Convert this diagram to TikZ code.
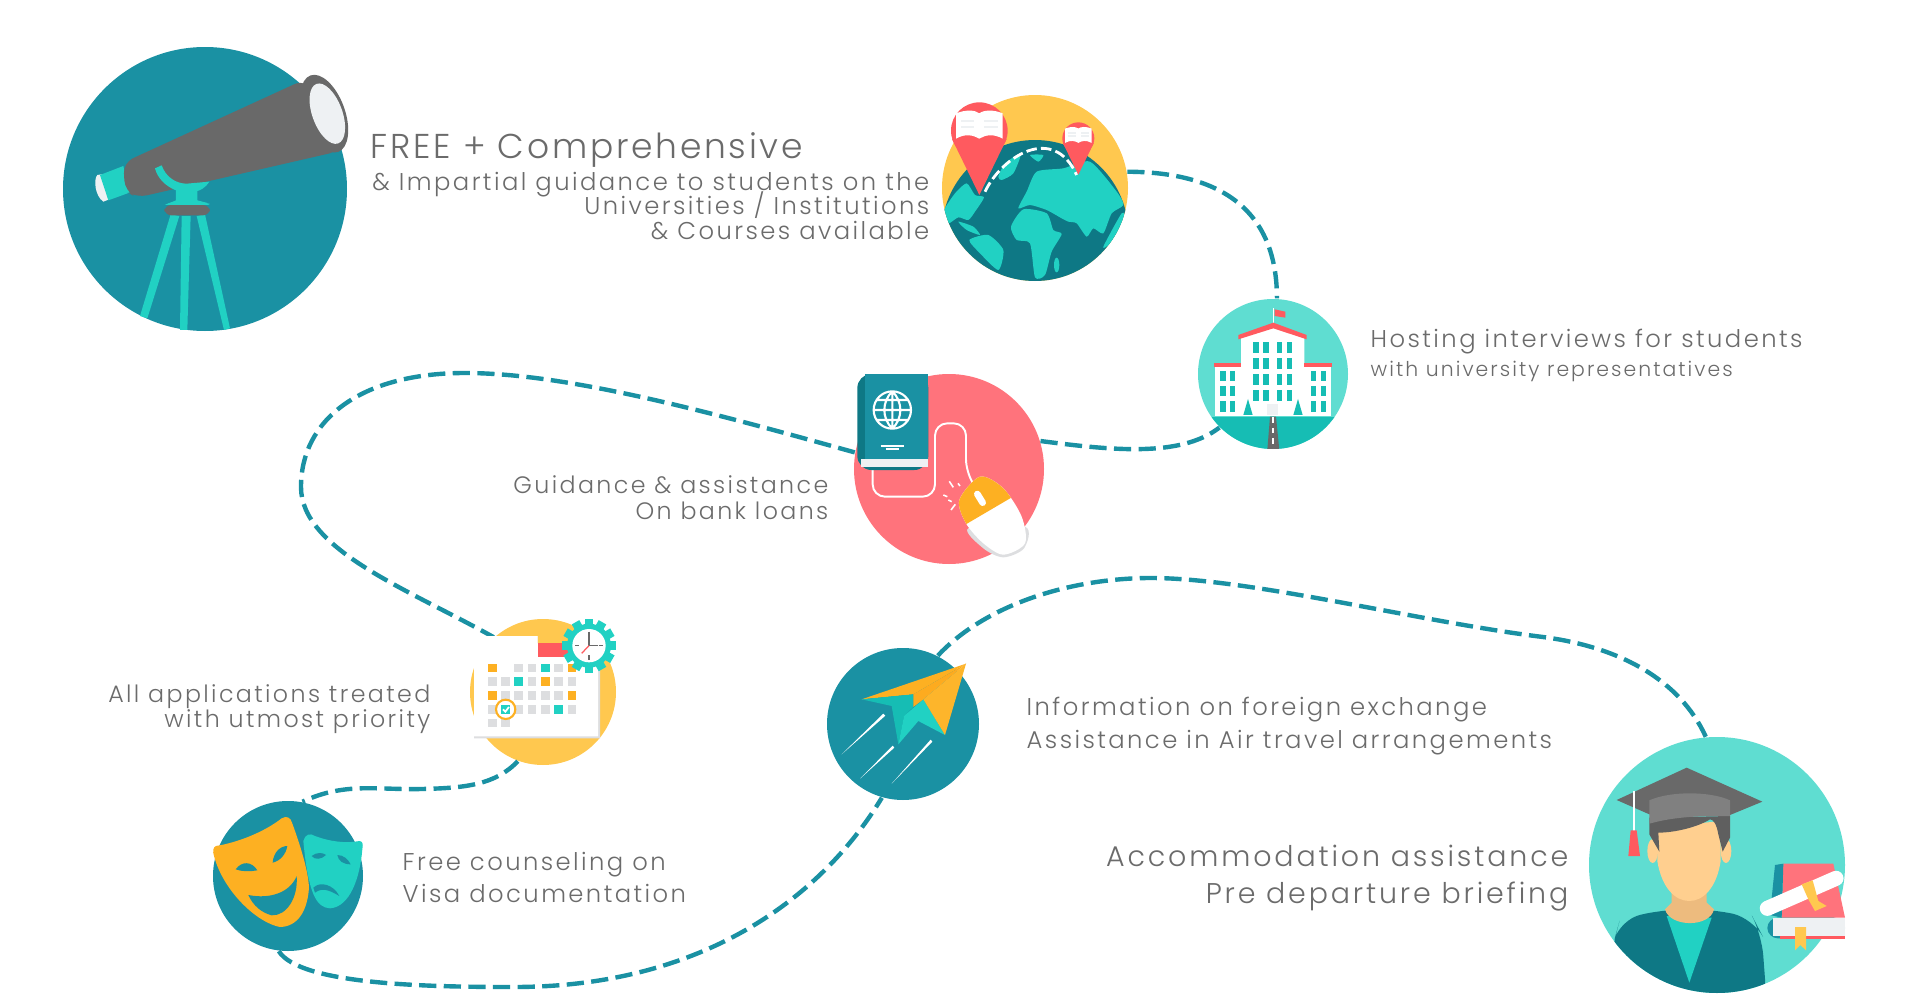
\documentclass[tikz,border=0pt]{standalone}
\usepackage{fontspec}
\usepackage{xcolor}
\newfontfamily\labelfont[LetterSpace=10]{Poppins Light}
\newfontfamily\headfont[LetterSpace=8]{Poppins Light}
\lineskiplimit=-20pt
\normallineskiplimit=-20pt
\definecolor{sea}{HTML}{1A91A3}
\definecolor{deepsea}{HTML}{0E7885}
\definecolor{aqua}{HTML}{21D1C3}
\definecolor{mint}{HTML}{5FDDD1}
\definecolor{lawn}{HTML}{16BDB4}
\definecolor{sun}{HTML}{FFC84F}
\definecolor{amber}{HTML}{FDB022}
\definecolor{coral}{HTML}{FF737C}
\definecolor{pinred}{HTML}{FF5A5F}
\definecolor{slate}{HTML}{696969}
\definecolor{paper}{HTML}{EEF1F3}
\definecolor{cell}{HTML}{DDDEE0}
\definecolor{inkgray}{HTML}{6B6B6B}
\definecolor{skin}{HTML}{FFCF8F}
\definecolor{neck}{HTML}{EDBB7E}
\tikzset{
    disc/.style 2 args={circle, inner sep=0pt, minimum size=#1*0.01cm, fill=#2},
    route/.style={draw=sea, line width=1.25pt, dash pattern=on 4.9pt off 2.1pt},
    blurb/.style 2 args={text=inkgray, inner sep=0pt, font=\labelfont\fontsize{#1}{#2}\selectfont},
    inset/.style 2 args={shift={(#1,#2)}, scale=1/3},
}
\begin{document}
\begin{tikzpicture}[x=0.01cm, y=-0.01cm]
    \fill[white, use as bounding box] (0,0) rectangle (1920,1000);

    \node[disc={284}{sea}] (telescope) at (205,189) {};
    \node[disc={186}{sun}] (globe) at (1035,188) {};
    \node[disc={150}{mint}] (campus) at (1273,374) {};
    \node[disc={190}{coral}] (passport) at (949,469) {};
    \node[disc={146}{sun}] (calendar) at (543,692) {};
    \node[disc={150}{sea}] (masks) at (288,876) {};
    \node[disc={152}{sea}] (plane) at (903,724) {};
    \node[disc={256}{mint}] (graduate) at (1717,865) {};

    \draw[route] (globe.10) .. controls (1200,172) and (1277,195) .. (campus.87);
    \draw[route] (passport.17) .. controls (1110,450) and (1180,458) .. (campus.225);
    \draw[route] (passport.170) .. controls (720,415) and (570,373) .. (465,373)
        .. controls (360,373) and (301,420) .. (301,487)
        .. controls (301,550) and (410,590) .. (calendar.132);
    \draw[route] (calendar.250) .. controls (495,785) and (465,788) .. (422,789)
        .. controls (375,790) and (345,782) .. (masks.79);
    \draw[route] (masks.263) .. controls (300,985) and (430,987) .. (514,987)
        .. controls (700,987) and (820,900) .. (plane.254);
    \draw[route] (plane.63) .. controls (985,605) and (1070,578) .. (1151,578)
        .. controls (1250,578) and (1420,622) .. (1543,637)
        .. controls (1620,647) and (1680,680) .. (graduate.95);

    \begin{scope}[inset={40}{31}]
        \fill[aqua] (392,550) -- (418,555) -- (322,862) -- (300,855) -- cycle;
        \fill[aqua] (425,555) -- (452,555) -- (442,897) -- (420,897) -- cycle;
        \fill[aqua] (470,555) -- (495,550) -- (570,892) -- (552,897) -- cycle;
        \fill[paper] (172,432) .. controls (160,445) and (165,495) .. (190,512) -- (208,505) -- (185,430) -- cycle;
        \fill[aqua] (180,432) -- (250,405) -- (268,485) -- (205,508) -- cycle;
        \fill[slate, rounded corners=3pt] (250,395) -- (795,145) -- (900,360) -- (290,500) -- (255,480) -- cycle;
        \fill[slate, rotate around={20:(853,248)}] (853,248) ellipse (62 and 122);
        \fill[paper, rotate around={20:(862,248)}] (862,248) ellipse (45 and 95);
        \fill[aqua] (345,412) -- (365,403) .. controls (378,440) and (410,458) .. (440,458)
            -- (508,452) .. controls (495,472) and (480,478) .. (472,480) -- (472,508) -- (510,518)
            -- (375,522) -- (408,508) -- (408,478) .. controls (375,465) and (352,440) .. (345,412) -- cycle;
        \fill[slate, rounded corners=2pt] (373,522) rectangle (510,553);
        \fill[aqua] (375,522) .. controls (400,505) and (485,505) .. (510,522) -- cycle;
    \end{scope}

    \begin{scope}[inset={930}{80}]
        \begin{scope}
            \clip (315,324) circle (279);
            \fill[deepsea] (315,460) circle (280);
            \fill[aqua] plot[smooth cycle, tension=0.4] coordinates {(40,395) (75,340) (110,310) (135,345) (162,352) (135,395) (115,420) (85,412) (55,430)};
            \fill[aqua] plot[smooth cycle, tension=0.4] coordinates {(85,425) (130,440) (150,465) (110,450)};
            \fill[aqua] plot[smooth cycle, tension=0.4] coordinates {(118,480) (175,465) (220,510) (205,570) (150,520)};
            \fill[aqua] plot[smooth cycle, tension=0.4] coordinates {(205,290) (225,250) (272,222) (250,280) (215,300)};
            \fill[aqua] plot[smooth cycle, tension=0.4] coordinates {(265,385) (290,335) (320,275) (400,265) (480,245) (560,335) (580,375) (545,400) (520,460) (490,445) (470,470) (440,430) (415,425) (395,415) (350,390) (300,375)};
            \fill[aqua] plot[smooth cycle, tension=0.4] coordinates {(243,440) (280,388) (350,400) (370,450) (395,462) (365,515) (345,585) (315,592) (300,490) (260,480)};
            \fill[aqua] plot[smooth cycle, tension=0.4] coordinates {(520,500) (575,400) (585,420) (540,490)};
            \fill[aqua] plot[smooth cycle, tension=0.4] coordinates {(300,225) (340,225) (325,245)};
            \fill[aqua] (380,555) ellipse (8 and 22);
        \end{scope}
        \draw[white, line width=0.8pt, dash pattern=on 3pt off 1.2pt] (165,335) .. controls (215,230) and (370,130) .. (440,285);
        \foreach \px/\py/\ps in {148/152/1, 445/175/0.565} {
            \begin{scope}[shift={(\px,\py)}, scale=\ps]
                \fill[pinred] (0,0) circle (85);
                \fill[pinred] (-82,25) -- (82,25) -- (0,193) -- cycle;
                \fill[white] (-70,-52) .. controls (-38,-64) and (-13,-62) .. (0,-52)
                    .. controls (12,-62) and (42,-64) .. (70,-52) -- (70,24)
                    .. controls (42,8) and (17,13) .. (0,24) .. controls (-18,13) and (-43,8) .. (-70,24) -- cycle;
                \draw[paper, line width=0.5pt] (-55,-30) -- (-15,-30) (-55,-12) -- (-15,-12) (15,-30) -- (55,-30) (15,-12) -- (55,-12);
            \end{scope}
        }
    \end{scope}

    \begin{scope}[inset={930}{80}]
        \begin{scope}
            \clip (1029,882) circle (225);
            \fill[lawn] (800,1010) rectangle (1260,1110);
            \fill[slate] (1020,1010) -- (1038,1010) -- (1048,1110) -- (1012,1110) -- cycle;
            \draw[white, line width=0.3pt, dash pattern=on 1.5pt off 1.5pt] (1029,1012) -- (1029,1108);
        \end{scope}
        \fill[white] (855,862) rectangle (1203,1008);
        \fill[white] (933,770) -- (1030,742) -- (1123,770) -- (1123,1008) -- (933,1008) -- cycle;
        \fill[white] (1028,685) rectangle (1032,730);
        \fill[pinred] (1034,688) -- (1066,695) -- (1066,713) -- (1034,708) -- cycle;
        \fill[pinred] (925,765) -- (1030,728) -- (1130,765) -- (1130,778) -- (1030,745) -- (925,778) -- cycle;
        \fill[pinred] (852,850) rectangle (933,862);
        \fill[pinred] (1123,850) rectangle (1205,862);
        \foreach \wx in {970,1000,1040,1071} {
            \foreach \wy in {786,834,882,931} {
                \fill[lawn] (\wx,\wy) rectangle ++(16,32);
            }
        }
        \foreach \wx in {871,900,1143,1172} {
            \foreach \wy in {873,918,964} {
                \fill[lawn] (\wx,\wy) rectangle ++(16,31);
            }
        }
        \fill[paper] (1012,972) rectangle (1045,1005);
        \fill[lawn] (954,957) -- (968,1005) -- (940,1005) -- cycle;
        \fill[lawn] (1104,957) -- (1118,1005) -- (1090,1005) -- cycle;
    \end{scope}

    \begin{scope}[inset={840}{360}]
        \draw[white, line width=0.55pt, rounded corners=3.5pt] (98,322) -- (98,410) -- (285,410) -- (285,190) -- (378,190) -- (378,335) -- (398,368);
        \fill[deepsea, rounded corners=4pt] (52,42) rectangle (265,330);
        \fill[sea] (75,42) rectangle (265,298);
        \fill[paper] (62,298) rectangle (265,322);
        \draw[white, line width=0.6pt] (157,150) circle (56) (157,94) -- (157,206) (101,150) -- (213,150)
            (157,94) .. controls (125,125) and (125,175) .. (157,206) (157,94) .. controls (189,125) and (189,175) .. (157,206)
            (110,120) -- (204,120) (110,180) -- (204,180);
        \draw[white, line width=0.5pt] (122,257) -- (192,257) (137,267) -- (178,267);
        \fill[cell] plot[smooth cycle] coordinates {(385,505) (430,565) (490,592) (552,565) (555,500)};
        \begin{scope}
            \clip plot[smooth cycle] coordinates {(358,420) (420,350) (490,385) (545,470) (555,550) (490,584) (430,550) (378,490)};
            \fill[white] (340,330) rectangle (570,600);
            \fill[amber] (340,330) -- (570,330) -- (570,380) -- (340,515) -- cycle;
        \end{scope}
        \draw[white, line width=1.9pt, line cap=round] (412,402) -- (428,428);
        \draw[white, line width=0.45pt] (340,382) -- (328,364) (322,410) -- (310,405) (333,450) -- (346,433) (360,378) -- (354,370) (335,425) -- (325,420);
    \end{scope}

    \begin{scope}[inset={460}{600}]
        \fill[cell] (42,108) -- (233,108) -- (233,130) -- (420,130) -- (420,415) -- (42,415) -- cycle;
        \fill[white] (42,108) -- (233,108) -- (233,130) -- (414,130) -- (414,409) -- (42,409) -- cycle;
        \fill[pinred] (233,130) rectangle (335,170);
        \foreach \cx/\cy/\tone in {
            97/204/amber, 176/204/cell, 216/204/cell, 256/204/aqua, 296/204/cell, 336/204/amber,
            97/245/cell, 137/245/cell, 176/245/aqua, 216/245/cell, 256/245/amber, 296/245/cell, 336/245/cell,
            97/287/amber, 137/287/cell, 176/287/cell, 216/287/cell, 256/287/cell, 296/287/cell, 336/287/amber,
            97/328/cell, 137/328/aqua, 176/328/cell, 216/328/cell, 256/328/cell, 296/328/aqua, 336/328/cell,
            97/369/cell, 137/369/cell} {
            \fill[\tone] (\cx-13,\cy-13) rectangle (\cx+13,\cy+13);
        }
        \draw[amber, line width=0.6pt] (137,328) circle (29);
        \draw[white, line width=0.5pt] (129,328) -- (136,335) -- (147,321);
        \foreach \ang in {0,30,...,330} {
            \fill[aqua, rotate around={\ang:(387,137)}] (374,56) rectangle (400,80);
        }
        \fill[aqua] (387,137) circle (66);
        \fill[white] (387,137) circle (50);
        \draw[slate, line width=0.4pt] (387,95) -- (387,108) (387,166) -- (387,179) (345,137) -- (358,137) (416,137) -- (429,137) (387,137) -- (387,103) (387,137) -- (415,137);
        \draw[pinred, line width=0.35pt] (387,137) -- (365,160);
    \end{scope}

    \begin{scope}[inset={200}{781}]
        \fill[aqua] (310,180) .. controls (315,160) and (330,155) .. (345,165)
            .. controls (390,182) and (440,188) .. (478,180) .. controls (488,180) and (490,190) .. (487,205)
            .. controls (480,290) and (450,378) .. (390,382) .. controls (350,380) and (325,340) .. (310,180) -- cycle;
        \fill[sea] (335,225) .. controls (350,212) and (370,215) .. (378,222) .. controls (365,235) and (345,238) .. (335,225) -- cycle;
        \fill[sea] (412,222) .. controls (430,222) and (445,235) .. (452,250) .. controls (430,250) and (415,240) .. (412,222) -- cycle;
        \fill[sea] (340,320) .. controls (360,300) and (400,310) .. (418,345) .. controls (385,325) and (365,320) .. (345,335) -- cycle;
        \fill[amber] (48,195) .. controls (110,185) and (190,155) .. (245,112) .. controls (260,103) and (272,110) .. (276,125)
            .. controls (300,190) and (325,270) .. (327,320) .. controls (322,395) and (290,437) .. (240,438)
            .. controls (170,425) and (70,330) .. (42,225) .. controls (37,210) and (40,198) .. (48,195) -- cycle;
        \fill[sea] (107,265) .. controls (125,240) and (155,240) .. (172,268) .. controls (150,272) and (125,272) .. (107,265) -- cycle;
        \fill[sea] (218,245) .. controls (220,215) and (240,195) .. (262,195) .. controls (258,220) and (240,240) .. (218,245) -- cycle;
        \fill[sea] (145,342) .. controls (210,355) and (270,335) .. (290,285) .. controls (295,350) and (260,405) .. (215,403) .. controls (185,395) and (160,375) .. (145,342) -- cycle;
    \end{scope}

    \begin{scope}[inset={810}{631}]
        \fill[amber] (155,205) -- (468,98) -- (310,190) -- cycle;
        \fill[lawn] (155,205) -- (310,190) -- (310,228) -- (282,255) -- (265,340) -- (245,225) -- cycle;
        \fill[aqua] (340,205) -- (405,312) -- (325,270) -- (265,340) -- (282,255) -- cycle;
        \fill[amber!90!orange] (468,98) -- (310,190) -- (310,228) -- (340,205) -- cycle;
        \fill[amber!80!sun] (468,98) -- (340,205) -- (405,312) -- cycle;
        \fill[white] (220,248) -- (226,254) -- (95,370) -- cycle;
        \fill[white] (248,344) -- (253,350) -- (150,443) -- cycle;
        \fill[white] (362,326) -- (367,332) -- (245,458) -- cycle;
    \end{scope}

    \begin{scope}[inset={1570}{721}]
        \begin{scope}
            \clip (441,432) circle (384);
            \fill[deepsea, rounded corners=6pt] (132,660) -- (150,595) -- (285,565) -- (430,565) -- (550,592) -- (575,640) -- (590,840) -- (100,840) -- cycle;
        \end{scope}
        \fill[aqua] (290,585) -- (425,590) -- (358,785) -- cycle;
        \fill[neck] (305,510) -- (410,510) -- (410,545) -- (432,565) .. controls (420,620) and (300,620) .. (285,565) -- (305,545) -- cycle;
        \fill[skin] (248,390) ellipse (16 and 36);
        \fill[skin] (468,390) ellipse (16 and 36);
        \fill[skin] (262,320) -- (452,300) -- (452,420) .. controls (440,500) and (400,540) .. (358,540) .. controls (315,540) and (275,500) .. (262,420) -- cycle;
        \fill[slate!90!black] (238,290) -- (480,285) -- (480,350) -- (458,392) -- (445,340)
            .. controls (440,310) and (430,295) .. (420,295) .. controls (380,320) and (310,335) .. (265,335)
            -- (268,392) -- (238,340) -- cycle;
        \fill[slate] (140,237) -- (350,140) -- (577,242) -- (480,282) -- (238,280) -- cycle;
        \fill[slate!85!white] (238,238) .. controls (300,210) and (420,210) .. (480,238) -- (480,285)
            .. controls (400,285) and (320,285) .. (238,308) -- cycle;
        \fill[white] (188,210) rectangle (194,330);
        \fill[pinred] (182,328) -- (200,328) -- (210,405) -- (175,405) -- cycle;
        \fill[sea, rounded corners=3pt] (592,590) rectangle (825,652);
        \fill[paper] (610,590) rectangle (825,645);
        \fill[pinred] (630,646) rectangle (825,653);
        \fill[coral] (640,428) -- (790,428) -- (825,590) -- (635,590) -- cycle;
        \fill[sea] (600,582) -- (615,432) -- (640,428) -- (635,590) -- cycle;
        \draw[white, line width=4.3pt, line cap=round] (592,562) -- (798,472);
        \fill[sun] (695,490) -- (728,478) -- (745,540) -- (770,555) -- (735,570) -- (715,535) -- cycle;
        \fill[sun] (675,618) -- (708,618) -- (708,688) -- (691,672) -- (675,688) -- cycle;
    \end{scope}

    \node[blurb={9.8}{12}, font=\headfont\fontsize{9.8}{12}\selectfont, anchor=west] (freehead) at (370,150) {FREE + Comprehensive};
    \node[blurb={6.9}{7.1}, anchor=east, align=right] (guidance) at (930,206) {\& Impartial guidance to students on the\\Universities / Institutions\\\& Courses available};
    \node[blurb={6.9}{8}, anchor=west] (hosting) at (1370,342) {Hosting interviews for students};
    \node[blurb={5.8}{7}, anchor=west] (hostingsub) at (1370,371) {with university representatives};
    \node[blurb={6.75}{7.3}, anchor=east, align=right] (loans) at (829,498) {Guidance \& assistance\\On bank loans};
    \node[blurb={6.75}{7.3}, anchor=east, align=right] (priority) at (431,709) {All applications treated\\with utmost priority};
    \node[blurb={6.9}{9.1}, anchor=west, align=left] (visa) at (402,877) {Free counseling on\\Visa documentation};
    \node[blurb={6.9}{9.3}, anchor=west, align=left] (exchange) at (1026,726) {Information on foreign exchange\\Assistance in Air travel arrangements};
    \node[blurb={8.1}{10.4}, anchor=east, align=right] (briefing) at (1569,878) {Accommodation assistance\\Pre departure briefing};
\end{tikzpicture}
\end{document}
